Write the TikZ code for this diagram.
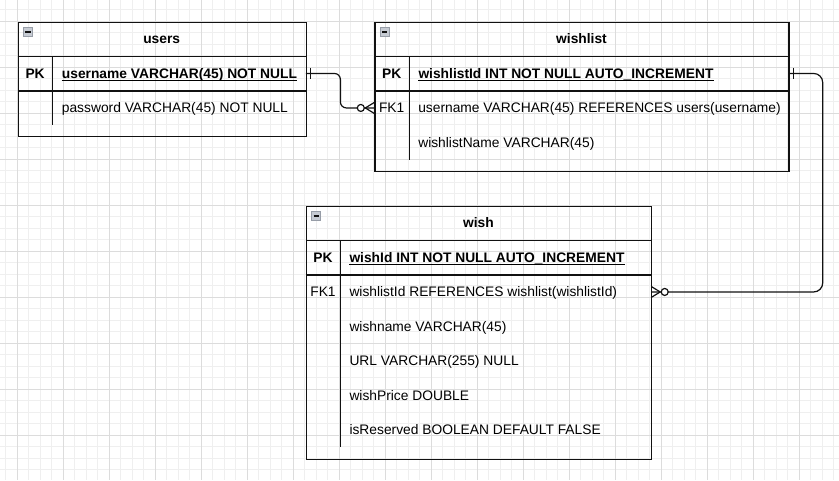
\documentclass[tikz,border=0pt]{standalone}
\usepackage{fontspec}
\setmainfont{Liberation Sans}
\usetikzlibrary{calc}
\definecolor{gridminor}{HTML}{EFEFEF}
\definecolor{gridmajor}{HTML}{DCDCDC}
\definecolor{iconfill}{HTML}{C6CBD3}
\definecolor{iconborder}{HTML}{979DA7}
\definecolor{inkcol}{HTML}{111111}
\newcommand\erkey[3]{\node[keytxt] (#1-k) at ($(#2.west)+(17.4,5)$) {#3};}
\newcommand\erfield[3]{\node[fieldtxt] (#1-f) at ($(#2.west)+(43.8,5)$) {#3};}
\begin{document}
\begin{tikzpicture}[x=1pt,y=-1pt,
  tablebox/.style={draw=inkcol, line width=1.2pt, rectangle, inner sep=0, anchor=north west, minimum width=#1},
  rowbox/.style={rectangle, inner sep=0, anchor=north west, minimum height=34.5pt, minimum width=#1},
  sepline/.style={draw=inkcol, line width=1.2pt},
  txt/.style={inner sep=0, font=\fontsize{13.8}{16}\selectfont, text=black},
  titletxt/.style={txt, anchor=base, font=\fontsize{13.8}{16}\selectfont\bfseries},
  keytxt/.style={txt, anchor=base, font=\fontsize{13.8}{16}\selectfont},
  fieldtxt/.style={txt, anchor=base west},
  ulline/.style={draw=black, line width=1.1pt},
  conn/.style={draw=inkcol, line width=1.2pt},
  erminus/.style={rectangle, draw=iconborder, fill=iconfill, line width=0.7pt, inner sep=0,
    minimum width=9pt, minimum height=8.6pt, anchor=north west,
    path picture={\draw[inkcol, line width=1.3pt] ([xshift=-2.6pt]path picture bounding box.center) -- ([xshift=2.6pt]path picture bounding box.center);}}
]
\useasboundingbox (0,0) rectangle (839,480);
\fill[white] (0,0) rectangle (839,480);
% grid
\foreach \i in {0,...,72} {\draw[gridminor, line width=0.8pt] (5.8+11.5*\i,0) -- (5.8+11.5*\i,480);}
\foreach \i in {0,...,41} {\draw[gridminor, line width=0.8pt] (0,9.5+11.5*\i) -- (839,9.5+11.5*\i);}
\foreach \i in {0,...,18} {\draw[gridmajor, line width=0.8pt] (17.3+46*\i,0) -- (17.3+46*\i,480);}
\foreach \i in {0,...,10} {\draw[gridmajor, line width=0.8pt] (0,21+46*\i) -- (839,21+46*\i);}

% ---------- users ----------
\node[tablebox=288pt, minimum height=114.5pt] (users) at (17.5,21.5) {};
\node[rowbox=288pt] (users-title) at (17.5,21.5) {};
\node[rowbox=288pt] (users-pk) at (17.5,56) {};
\node[rowbox=288pt] (users-pw) at (17.5,90.5) {};
\draw[sepline] (users-title.south west) -- (users-title.south east);
\draw[sepline] (users-pk.south west) -- (users-pk.south east);
\draw[sepline] ($(users-pk.north west)+(35.3,0)$) -- ($(users-pw.south west)+(35.3,0)$);
\node[erminus] (users-m) at ($(users.north west)+(5.6,5.8)$) {};
\node[titletxt] (users-t) at ($(users-title.center)+(0,5)$) {users};
\node[keytxt, font=\fontsize{13.8}{16}\selectfont\bfseries] (users-pk-k) at ($(users-pk.west)+(17.6,5)$) {PK};
\node[fieldtxt, font=\fontsize{13.8}{16}\selectfont\bfseries] (users-pk-f) at ($(users-pk.west)+(44.2,5)$) {username VARCHAR(45) NOT NULL};
\draw[ulline] ($(users-pk-f.base west)+(0,2.1)$) -- ($(users-pk-f.base east)+(0,2.1)$);
\node[fieldtxt] (users-pw-f) at ($(users-pw.west)+(44.2,5)$) {password VARCHAR(45) NOT NULL};

% ---------- wishlist ----------
\node[tablebox=414pt, minimum height=149.5pt] (wishlist) at (374.3,21.5) {};
\node[rowbox=414pt] (wishlist-title) at (374.3,21.5) {};
\node[rowbox=414pt] (wishlist-pk) at (374.3,56) {};
\node[rowbox=414pt] (wishlist-fk) at (374.3,90.5) {};
\node[rowbox=414pt] (wishlist-nm) at (374.3,125) {};
\draw[sepline] (wishlist-title.south west) -- (wishlist-title.south east);
\draw[sepline] (wishlist-pk.south west) -- (wishlist-pk.south east);
\draw[sepline] ($(wishlist-pk.north west)+(35,0)$) -- ($(wishlist-nm.south west)+(35,0)$);
\node[erminus] (wishlist-m) at ($(wishlist.north west)+(5.6,5.8)$) {};
\node[titletxt] (wishlist-t) at ($(wishlist-title.center)+(0,5)$) {wishlist};
\node[keytxt, font=\fontsize{13.8}{16}\selectfont\bfseries] (wishlist-pk-k) at ($(wishlist-pk.west)+(17.5,5)$) {PK};
\node[fieldtxt, font=\fontsize{13.8}{16}\selectfont\bfseries] (wishlist-pk-f) at ($(wishlist-pk.west)+(44,5)$) {wishlistId INT NOT NULL AUTO\_INCREMENT};
\draw[ulline] ($(wishlist-pk-f.base west)+(0,2.1)$) -- ($(wishlist-pk-f.base east)+(0,2.1)$);
\erkey{wishlist-fk}{wishlist-fk}{FK1}
\erfield{wishlist-fk}{wishlist-fk}{username VARCHAR(45) REFERENCES users(username)}
\erfield{wishlist-nm}{wishlist-nm}{wishlistName VARCHAR(45)}

% ---------- wish ----------
\node[tablebox=345pt, minimum height=253pt] (wish) at (305.8,205.5) {};
\node[rowbox=345pt] (wish-title) at (305.8,205.5) {};
\node[rowbox=345pt] (wish-pk) at (305.8,240) {};
\node[rowbox=345pt] (wish-fk) at (305.8,274.5) {};
\node[rowbox=345pt] (wish-nm) at (305.8,309) {};
\node[rowbox=345pt] (wish-url) at (305.8,343.5) {};
\node[rowbox=345pt] (wish-pr) at (305.8,378) {};
\node[rowbox=345pt] (wish-rs) at (305.8,412.5) {};
\draw[sepline] (wish-title.south west) -- (wish-title.south east);
\draw[sepline] (wish-pk.south west) -- (wish-pk.south east);
\draw[sepline] ($(wish-pk.north west)+(34.4,0)$) -- ($(wish-rs.south west)+(34.4,0)$);
\node[erminus] (wish-m) at ($(wish.north west)+(5.6,5.8)$) {};
\node[titletxt] (wish-t) at ($(wish-title.center)+(0,5)$) {wish};
\node[keytxt, font=\fontsize{13.8}{16}\selectfont\bfseries] (wish-pk-k) at ($(wish-pk.west)+(17.2,5)$) {PK};
\node[fieldtxt, font=\fontsize{13.8}{16}\selectfont\bfseries] (wish-pk-f) at ($(wish-pk.west)+(43.5,5)$) {wishId INT NOT NULL AUTO\_INCREMENT};
\draw[ulline] ($(wish-pk-f.base west)+(0,2.1)$) -- ($(wish-pk-f.base east)+(0,2.1)$);
\node[keytxt] (wish-fk-k) at ($(wish-fk.west)+(17.2,5)$) {FK1};
\node[fieldtxt] (wish-fk-f) at ($(wish-fk.west)+(43.5,5)$) {wishlistId REFERENCES wishlist(wishlistId)};
\node[fieldtxt] (wish-nm-f) at ($(wish-nm.west)+(43.5,5)$) {wishname VARCHAR(45)};
\node[fieldtxt] (wish-url-f) at ($(wish-url.west)+(43.5,5)$) {URL VARCHAR(255) NULL};
\node[fieldtxt] (wish-pr-f) at ($(wish-pr.west)+(43.5,5)$) {wishPrice DOUBLE};
\node[fieldtxt] (wish-rs-f) at ($(wish-rs.west)+(43.5,5)$) {isReserved BOOLEAN DEFAULT FALSE};

% ---------- connectors ----------
\draw[conn, rounded corners=6pt] (users-pk.east) -- ++(34.5,0) |- (wishlist-fk.west);
\draw[conn] ($(users-pk.east)+(4.8,-5.5)$) -- ++(0,11);
\draw[conn] ($(wishlist-fk.west)+(-9,0)$) -- ($(wishlist-fk.west)+(0,-5.5)$);
\draw[conn] ($(wishlist-fk.west)+(-9,0)$) -- ($(wishlist-fk.west)+(0,5.5)$);
\draw[conn, fill=white] ($(wishlist-fk.west)+(-13.5,0)$) circle (3.5pt);

\draw[conn, rounded corners=9pt] (wishlist-pk.east) -- ++(34,0) |- (wish-fk.east);
\draw[conn] ($(wishlist-pk.east)+(4.8,-5.5)$) -- ++(0,11);
\draw[conn] ($(wish-fk.east)+(9,0)$) -- ($(wish-fk.east)+(0,-5.5)$);
\draw[conn] ($(wish-fk.east)+(9,0)$) -- ($(wish-fk.east)+(0,5.5)$);
\draw[conn, fill=white] ($(wish-fk.east)+(13.5,0)$) circle (3.5pt);
\end{tikzpicture}
\end{document}
